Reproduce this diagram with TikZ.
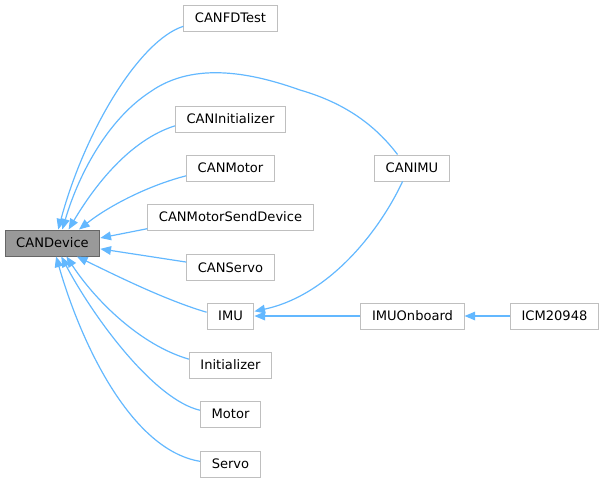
\documentclass[tikz,border=0pt]{standalone}
\usepackage{fontspec}
\setmainfont{DejaVu Sans}
\usetikzlibrary{arrows.meta}
\definecolor{edgeblue}{HTML}{63B8FF}
\definecolor{boxgrey}{HTML}{BFBFBF}
\begin{document}
\begin{tikzpicture}[
x=0.75pt,y=-0.75pt,
every node/.style={rectangle,draw=boxgrey,line width=0.75pt,fill=white,inner xsep=8.3pt,inner ysep=0pt,minimum height=19.5pt,font=\fontsize{9.8}{12}\selectfont},
base/.style={fill=black!40,draw=black!60},
deriv/.style={draw=edgeblue,line width=0.9pt,-{Triangle[length=8pt,width=6.5pt]}}
]
\useasboundingbox (0,0) rectangle (604,483);
\node[base] (candevice) at (52.5,243) {CANDevice};
\node (canfdtest) at (230.5,18) {CANFDTest};
\node (caninit) at (230.5,119) {CANInitializer};
\node (canmotor) at (230.5,168) {CANMotor};
\node (cansend) at (230.5,217) {CANMotorSendDevice};
\node (canservo) at (230.5,267.5) {CANServo};
\node (imu) at (230.5,316) {IMU};
\node (init) at (230.5,365) {Initializer};
\node (motor) at (230.5,414) {Motor};
\node (servo) at (230.5,464) {Servo};
\node (canimu) at (412,168) {CANIMU};
\node (imuonboard) at (412.5,316) {IMUOnboard};
\node (icm) at (554.5,316) {ICM20948};
\draw[deriv] (canfdtest.190) .. controls (140,40) and (85,130) .. (candevice.67);
\draw[deriv] (canimu.137) .. controls (375,125) and (345,103) .. (300,90)
  .. controls (255,74) and (195,60) .. (150,92)
  .. controls (110,118) and (80,170) .. (candevice.54);
\draw[deriv] (caninit.187) .. controls (130,140) and (95,185) .. (candevice.40);
\draw[deriv] (canmotor.190) .. controls (150,185) and (110,205) .. (candevice.27);
\draw[deriv] (cansend.188) -- (candevice.6);
\draw[deriv] (canservo.173) -- (candevice.-7);
\draw[deriv] (imu.171) .. controls (165,300) and (115,275) .. (candevice.-29);
\draw[deriv] (init.172) .. controls (140,345) and (95,300) .. (candevice.-44);
\draw[deriv] (motor.173) .. controls (155,400) and (95,320) .. (candevice.-57);
\draw[deriv] (servo.175) .. controls (130,450) and (80,340) .. (candevice.-75);
\draw[deriv] (canimu.235) .. controls (380,230) and (330,295) .. (imu.11);
\draw[deriv] (imuonboard) -- (imu);
\draw[deriv] (icm) -- (imuonboard);
\end{tikzpicture}
\end{document}
